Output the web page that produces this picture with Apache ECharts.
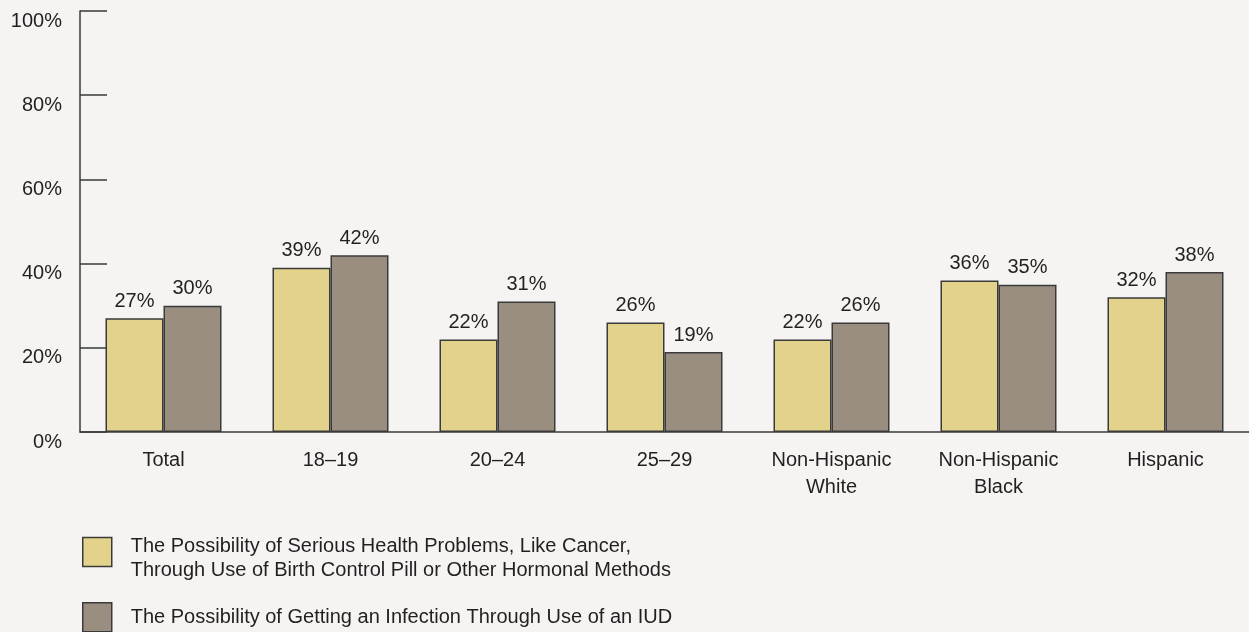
<!DOCTYPE html>
<html>
<head>
<meta charset="utf-8">
<script src="https://cdn.jsdelivr.net/npm/echarts@6/dist/echarts.min.js"></script>
<style>
html,body{margin:0;padding:0;background:#f5f4f2;}
#chart{width:1249px;height:632px;}
</style>
</head>
<body>
<div id="chart"></div>
<script>
const categories = ['Total', '18–19', '20–24', '25–29', 'Non-Hispanic\nWhite', 'Non-Hispanic\nBlack', 'Hispanic'];
const seriesNames = [
  'The Possibility of Serious Health Problems, Like Cancer,\nThrough Use of Birth Control Pill or Other Hormonal Methods',
  'The Possibility of Getting an Infection Through Use of an IUD'
];
const hormonalValues = [27, 39, 22, 26, 22, 36, 32];
const iudValues = [30, 42, 31, 19, 26, 35, 38];
const yTicks = [0, 20, 40, 60, 80, 100];

const textColor = '#231f20';
const lineColor = '#3a3a3a';
const font = 'Liberation Sans, Arial, Helvetica, sans-serif';

const chart = echarts.init(document.getElementById('chart'));
const labelCfg = {
  show: true, position: 'top', distance: 7,
  formatter: p => p.value + '%',
  color: textColor, fontSize: 20, fontFamily: font
};
const legendBase = {
  orient: 'vertical', left: 77,
  itemWidth: 29, itemHeight: 29, itemGap: 0,
  icon: 'rect',
  itemStyle: { borderColor: lineColor, borderWidth: 1.5 },
  textStyle: {
    color: textColor, fontSize: 20, fontFamily: font, lineHeight: 24, padding: [0, 0, 0, 14],
    rich: {
      s: { fontSize: 2, lineHeight: 12 },
      t: { color: textColor, fontSize: 20, fontFamily: font, lineHeight: 24 }
    }
  }
};
chart.setOption({
  backgroundColor: '#f5f4f2',
  animation: false,
  grid: { left: 80, right: 0, top: 11, bottom: 200 },
  legend: [
    Object.assign({}, legendBase, { top: 517, data: [seriesNames[0]],
      formatter: n => '{s| }\n' + n.split('\n').map(l => '{t|' + l + '}').join('\n') }),
    Object.assign({}, legendBase, { top: 597, data: [seriesNames[1]] })
  ],
  xAxis: {
    type: 'category', data: categories,
    axisLine: { lineStyle: { color: lineColor, width: 1.5 } },
    axisTick: { show: false },
    axisLabel: { color: textColor, fontSize: 20, fontFamily: font, margin: 15, lineHeight: 27, interval: 0 }
  },
  yAxis: {
    type: 'value', min: yTicks[0], max: yTicks[yTicks.length - 1], interval: 20,
    splitLine: { show: false },
    axisLine: { show: true, lineStyle: { color: lineColor, width: 1.5 } },
    axisTick: { show: true, inside: true, length: 27, lineStyle: { color: lineColor, width: 1.5 } },
    axisLabel: { color: textColor, fontSize: 20, fontFamily: font, margin: 18, verticalAlign: 'top', formatter: v => v + '%' }
  },
  series: [
    { name: seriesNames[0], type: 'bar', data: hormonalValues, barWidth: 58, barGap: '0%',
      itemStyle: { color: '#e2d28b', borderColor: lineColor, borderWidth: 1.5 }, label: labelCfg },
    { name: seriesNames[1], type: 'bar', data: iudValues, barWidth: 58,
      itemStyle: { color: '#9a8e80', borderColor: lineColor, borderWidth: 1.5 }, label: labelCfg }
  ]
});
</script>
</body>
</html>
